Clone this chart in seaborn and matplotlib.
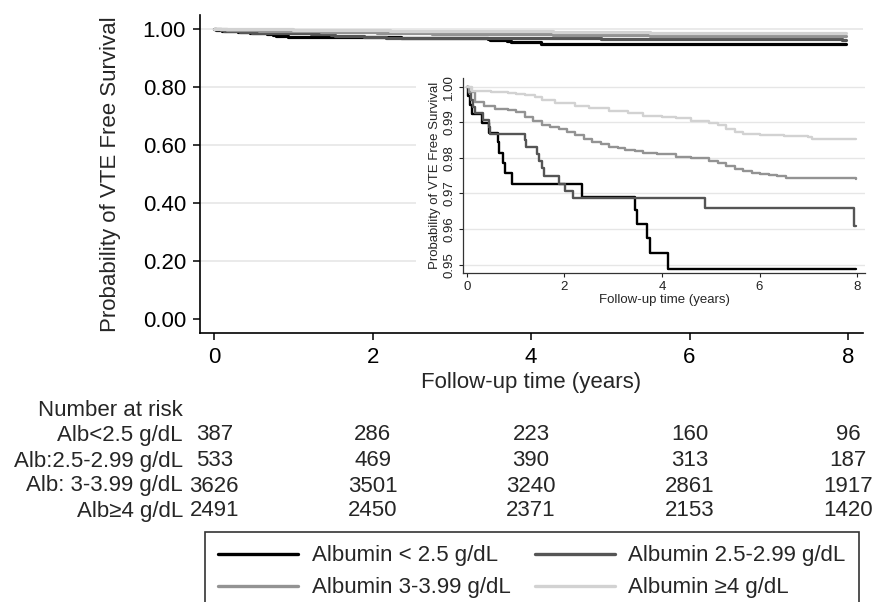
"""
Kaplan-Meier style plot of VTE free survival by albumin group,
with a zoomed inset and a number-at-risk table underneath.
"""
import numpy as np
import pandas as pd
import matplotlib
matplotlib.use("Agg")
import matplotlib.pyplot as plt
import matplotlib.transforms as mtransforms
from matplotlib.lines import Line2D
import seaborn as sns

# survival curves (time in years, survival after the step)
t_lt25 = [0, 0.02, 0.06, 0.10, 0.30, 0.45, 0.63, 0.66, 0.74, 0.78, 0.93,
          2.36, 3.45, 3.48, 3.70, 3.75, 4.13, 7.97]
s_lt25 = [1.0, 0.9974, 0.9948, 0.9922, 0.9897, 0.9871, 0.9845, 0.9815,
          0.9785, 0.9758, 0.9727, 0.9690, 0.9653, 0.9613, 0.9575, 0.9533,
          0.9489, 0.9489]

t_25_299 = [0, 0.04, 0.08, 0.12, 0.16, 0.33, 0.45, 0.48, 1.19, 1.22, 1.43,
            1.48, 1.53, 1.57, 1.89, 2.02, 2.17, 4.88, 7.93, 7.97]
s_25_299 = [1.0, 0.9981, 0.9962, 0.9944, 0.9925, 0.9906, 0.9887, 0.9868,
            0.9849, 0.9830, 0.9811, 0.9792, 0.9773, 0.9748, 0.9727, 0.9707,
            0.9686, 0.9660, 0.9608, 0.9608]

t_3_399 = [0, 0.05, 0.16, 0.35, 0.57, 0.85, 1.0, 1.19, 1.35, 1.53, 1.7, 1.88,
           2.05, 2.22, 2.4, 2.57, 2.75, 2.91, 3.1, 3.25, 3.45, 3.6, 3.9, 4.28,
           4.6, 4.97, 5.15, 5.32, 5.5, 5.66, 5.85, 6.0, 6.2, 6.35, 6.55, 7.0,
           7.5, 7.98]
s_3_399 = [1.0, 0.9985, 0.9958, 0.9946, 0.9938, 0.9935, 0.9928, 0.9916,
           0.9904, 0.9892, 0.9886, 0.9880, 0.9872, 0.9863, 0.9853, 0.9844,
           0.9838, 0.9832, 0.9827, 0.9822, 0.9818, 0.9815, 0.9810, 0.9803,
           0.9799, 0.9792, 0.9785, 0.9777, 0.9770, 0.9763, 0.9758, 0.9755,
           0.9752, 0.9749, 0.9744, 0.9744, 0.9743, 0.9742]

t_ge4 = [0, 0.1, 0.5, 0.85, 1.0, 1.19, 1.4, 1.53, 1.8, 2.22, 2.5, 2.91, 3.3,
         3.6, 4.0, 4.28, 4.6, 4.97, 5.15, 5.32, 5.5, 5.66, 6.0, 6.5, 7.0,
         7.07, 7.98]
s_ge4 = [1.0, 0.9988, 0.9985, 0.9981, 0.9980, 0.9978, 0.9972, 0.9964,
         0.9955, 0.9945, 0.9940, 0.9933, 0.9925, 0.9918, 0.9914, 0.9911,
         0.9905, 0.9899, 0.9892, 0.9882, 0.9874, 0.9868, 0.9863, 0.9862,
         0.9860, 0.9852, 0.9852]

groups = ["Albumin < 2.5 g/dL", "Albumin 2.5-2.99 g/dL",
          "Albumin 3-3.99 g/dL", "Albumin \u22654 g/dL"]
colors = ["#000000", "#555555", "#939393", "#d2d2d2"]

# number at risk table
risk_times = [0, 2, 4, 6, 8]
risk_labels = ["Alb<2.5 g/dL", "Alb:2.5-2.99 g/dL", "Alb: 3-3.99 g/dL",
               "Alb\u22654 g/dL"]
risk_lt25 = [387, 286, 223, 160, 96]
risk_25_299 = [533, 469, 390, 313, 187]
risk_3_399 = [3626, 3501, 3240, 2861, 1917]
risk_ge4 = [2491, 2450, 2371, 2153, 1420]

# build long dataframe for seaborn
frames = []
for g, t, s in zip(groups, [t_lt25, t_25_299, t_3_399, t_ge4],
                   [s_lt25, s_25_299, s_3_399, s_ge4]):
    frames.append(pd.DataFrame({"group": g, "time": t, "surv": s}))
df = pd.concat(frames, ignore_index=True)
palette = dict(zip(groups, colors))

sns.set_style("white")
plt.rcParams["font.family"] = ["Liberation Sans", "DejaVu Sans"]

W, H = 876, 602
fig = plt.figure(figsize=(W / 100, H / 100), dpi=100)


def px(x0, y0, x1, y1):
    # pixel box -> figure fraction rect
    return [x0 / W, 1 - y1 / H, (x1 - x0) / W, (y1 - y0) / H]


# ---- main axes
ax = fig.add_axes(px(200, 15, 863, 333))
sns.lineplot(data=df, x="time", y="surv", hue="group", palette=palette,
             estimator=None, drawstyle="steps-post", linewidth=2.3,
             legend=False, ax=ax)
ax.set_xlim(-0.18, 8.19)
ax.set_ylim(-0.048, 1.048)
ax.set_xticks([0, 2, 4, 6, 8])
ax.set_yticks([0, 0.2, 0.4, 0.6, 0.8, 1.0])
ax.yaxis.set_major_formatter(matplotlib.ticker.FormatStrFormatter("%.2f"))
ax.grid(axis="y", color="#e6e6e6", linewidth=1.2)
ax.set_axisbelow(True)
ax.get_ygridlines()[0].set_visible(False)
for side in ["top", "right"]:
    ax.spines[side].set_visible(False)
for side in ["left", "bottom"]:
    ax.spines[side].set_color("black")
    ax.spines[side].set_linewidth(1.2)
ax.tick_params(axis="both", direction="out", length=5, width=1.1,
               colors="black", labelsize=16, pad=5, left=True, bottom=True)
ax.set_xlabel("Follow-up time (years)", fontsize=16, labelpad=3)
ax.set_ylabel("Probability of VTE Free Survival", fontsize=16, labelpad=16)

# ---- white backdrop for the inset (hides main gridlines)
bg = fig.add_axes(px(416, 66, 876, 318))
bg.set_facecolor("white")
bg.set_xticks([])
bg.set_yticks([])
for s in bg.spines.values():
    s.set_visible(False)

# ---- inset
ins = fig.add_axes(px(463, 78, 865, 273))
sns.lineplot(data=df, x="time", y="surv", hue="group", palette=palette,
             estimator=None, drawstyle="steps-post", linewidth=1.7,
             legend=False, ax=ins)
ins.set_xlim(-0.082, 8.164)
ins.set_ylim(0.94767, 1.00244)
ins.set_xticks([0, 2, 4, 6, 8])
ins.set_yticks([0.95, 0.96, 0.97, 0.98, 0.99, 1.00])
ins.yaxis.set_major_formatter(matplotlib.ticker.FormatStrFormatter("%.2f"))
ins.grid(axis="y", color="#e6e6e6", linewidth=1)
ins.set_axisbelow(True)
for side in ["top", "right"]:
    ins.spines[side].set_visible(False)
for side in ["left", "bottom"]:
    ins.spines[side].set_color("#333333")
    ins.spines[side].set_linewidth(0.9)
ins.tick_params(axis="both", direction="out", length=3, width=0.8,
                colors="#222222", labelsize=9.5, pad=2.5, left=True,
                bottom=True)
for lab in ins.get_yticklabels():
    lab.set_rotation(90)
    lab.set_va("center")
ins.set_xlabel("Follow-up time (years)", fontsize=9.5, labelpad=1)
ins.set_ylabel("Probability of VTE Free Survival", fontsize=9.5, labelpad=2)

# ---- number at risk table
trans = mtransforms.blended_transform_factory(ax.transData, fig.transFigure)
label_x = -0.395
fig.text(label_x, 1 - 410 / H, "Number at risk", transform=trans,
         ha="right", va="center", fontsize=16)
row_y = [435, 461, 486, 511]
for lab, counts, yy in zip(risk_labels,
                           [risk_lt25, risk_25_299, risk_3_399, risk_ge4],
                           row_y):
    fig.text(label_x, 1 - yy / H, lab, transform=trans, ha="right",
             va="center", fontsize=16)
    for t, n in zip(risk_times, counts):
        fig.text(t, 1 - yy / H, str(n), transform=trans, ha="center",
                 va="center", fontsize=16)

# ---- legend at the bottom
handles = [Line2D([], [], color=c, linewidth=2.4) for c in colors]
order = [0, 2, 1, 3]
leg = fig.legend([handles[i] for i in order], [groups[i] for i in order],
                 ncol=2, loc="upper left",
                 bbox_to_anchor=(205 / W, 1 - 532 / H), frameon=True,
                 fancybox=False, edgecolor="black", fontsize=16,
                 handlelength=3.6, handletextpad=0.6, columnspacing=1.1,
                 labelspacing=0.5, borderpad=0.6, borderaxespad=0)
leg.get_frame().set_linewidth(1.2)

fig.savefig("out.png", dpi=100)
